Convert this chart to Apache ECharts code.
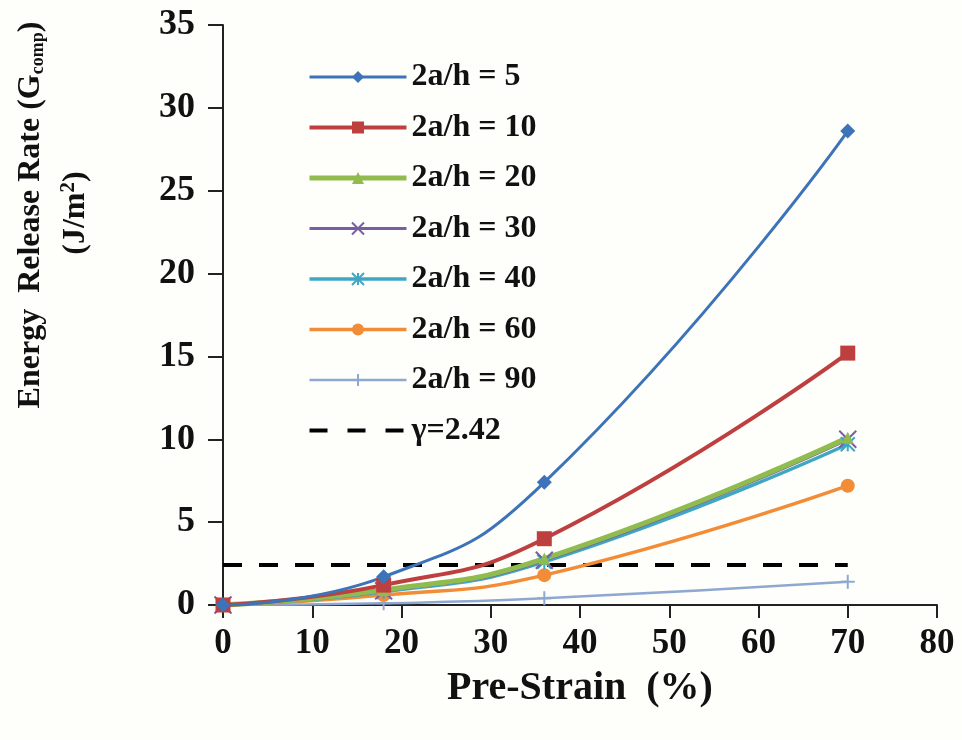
<!DOCTYPE html>
<html>
<head>
<meta charset="utf-8">
<script src="https://cdn.jsdelivr.net/npm/echarts@6/dist/echarts.min.js"></script>
<style>
  html, body { margin: 0; padding: 0; background: #fefefa; }
  #chart { width: 962px; height: 740px; }
</style>
</head>
<body>
<div id="chart"></div>
<script>
// Pre-strain values (%) at which G_comp was computed
const strain = [0, 18, 36, 70];

// Energy release rate G_comp (J/m^2) for each crack ratio 2a/h
const g5  = [0, 1.7, 7.4, 28.6];
const g10 = [0, 1.2, 4.0, 15.2];
const g20 = [0, 0.9, 2.8, 10.1];
const g30 = [0, 0.85, 2.7, 10.0];
const g40 = [0, 0.8, 2.6, 9.7];
const g60 = [0, 0.6, 1.8, 7.2];
const g90 = [0, 0.1, 0.4, 1.4];

// Adhesion energy reference level
const gamma = 2.42;
const gammaSpan = [0, 70];

const seriesNames = ['2a/h = 5', '2a/h = 10', '2a/h = 20', '2a/h = 30', '2a/h = 40', '2a/h = 60', '2a/h = 90'];
const gammaName = 'γ=2.42';

const xTicks = { min: 0, max: 80, interval: 10 };
const yTicks = { min: 0, max: 35, interval: 5 };

const serif = '"Liberation Serif", "Times New Roman", serif';

// stroked marker outlines
const crossPath = 'path://M0 0L10 10M10 0L0 10';
const asteriskPath = 'path://M0 0L10 10M10 0L0 10M5 0L5 10';
const plusPath = 'path://M5 0L5 10M0 5L10 5';

const colors = ['#3d73b8', '#be3f3f', '#8fbb4f', '#7a5ea3', '#3fa7c4', '#f28c36', '#8fa8d2'];
const widths = [3, 4, 5, 3, 3.5, 3.5, 2.5];

function pairs(ys) { return strain.map((x, i) => [x, ys[i]]); }

function curve(idx, ys, symbol, size, stroked) {
  const color = colors[idx];
  return {
    name: seriesNames[idx],
    type: 'line',
    data: pairs(ys),
    smooth: 0.5,
    symbol: symbol,
    symbolSize: size,
    showAllSymbol: true,
    lineStyle: { color: color, width: widths[idx] },
    itemStyle: stroked
      ? { color: 'rgba(0,0,0,0)', borderColor: color, borderWidth: 2 }
      : { color: color, borderWidth: 0 },
    emphasis: { disabled: true },
    z: 3
  };
}

const legendData = seriesNames.map((n, i) => ({
  name: n,
  lineStyle: { width: widths[i], color: colors[i] }
})).concat([{
  name: gammaName,
  lineStyle: { width: 4, color: '#000', type: [18, 20] },
  itemStyle: { color: 'rgba(0,0,0,0)', borderColor: 'rgba(0,0,0,0)', borderWidth: 0 }
}]);

const chart = echarts.init(document.getElementById('chart'), null, { renderer: 'canvas' });

chart.setOption({
  backgroundColor: '#fefefa',
  animation: false,
  grid: { left: 223, right: 25, top: 25, bottom: 135 },
  legend: {
    left: 302,
    top: 55,
    orient: 'vertical',
    itemWidth: 97,
    itemHeight: 15,
    itemGap: 16.5,
    textStyle: { fontFamily: serif, fontWeight: 'bold', fontSize: 32, lineHeight: 34, color: '#111' },
    data: legendData
  },
  xAxis: {
    type: 'value',
    min: xTicks.min, max: xTicks.max, interval: xTicks.interval,
    name: 'Pre-Strain  (%)',
    nameLocation: 'middle',
    nameGap: 64,
    nameTextStyle: { fontFamily: serif, fontWeight: 'bold', fontSize: 40, color: '#111' },
    axisLine: { lineStyle: { color: '#222', width: 2 } },
    axisTick: { show: true, inside: false, length: 13, lineStyle: { color: '#222', width: 2 } },
    axisLabel: { margin: 21, fontFamily: serif, fontWeight: 'bold', fontSize: 35, color: '#111' },
    splitLine: { show: false }
  },
  yAxis: {
    type: 'value',
    min: yTicks.min, max: yTicks.max, interval: yTicks.interval,
    axisLine: { show: true, lineStyle: { color: '#222', width: 2 } },
    axisTick: { show: true, inside: false, length: 15, lineStyle: { color: '#222', width: 2 } },
    axisLabel: { margin: 28, fontFamily: serif, fontWeight: 'bold', fontSize: 36, color: '#111' },
    splitLine: { show: false }
  },
  graphic: [
    {
      type: 'text',
      x: 31, y: 215,
      rotation: Math.PI / 2,
      style: {
        text: 'Energy  Release Rate (G{sub|comp})',
        fontFamily: serif, fontWeight: 'bold', fontSize: 32, fill: '#111',
        align: 'center', verticalAlign: 'middle',
        rich: {
          sub: { fontFamily: serif, fontWeight: 'bold', fontSize: 18, fill: '#111', padding: [14, 0, 0, 0] }
        }
      }
    },
    {
      type: 'text',
      x: 76, y: 213,
      rotation: Math.PI / 2,
      style: {
        text: '(J/m{sup|2})',
        fontFamily: serif, fontWeight: 'bold', fontSize: 32, fill: '#111',
        align: 'center', verticalAlign: 'middle',
        rich: {
          sup: { fontFamily: serif, fontWeight: 'bold', fontSize: 21, fill: '#111', padding: [0, 0, 14, 0] }
        }
      }
    }
  ],
  series: [
    {
      name: gammaName,
      type: 'line',
      data: gammaSpan.map(x => [x, gamma]),
      symbol: 'none',
      lineStyle: { color: '#000', width: 4, type: [19, 17] },
      itemStyle: { color: '#000' },
      emphasis: { disabled: true },
      z: 2
    },
    curve(6, g90, plusPath, 14, true),
    curve(5, g60, 'circle', 14, false),
    curve(4, g40, asteriskPath, 14, true),
    curve(3, g30, crossPath, 17, true),
    curve(2, g20, 'triangle', 12, false),
    curve(1, g10, 'rect', 15, false),
    curve(0, g5, 'diamond', 15, false)
  ]
});
</script>
</body>
</html>
